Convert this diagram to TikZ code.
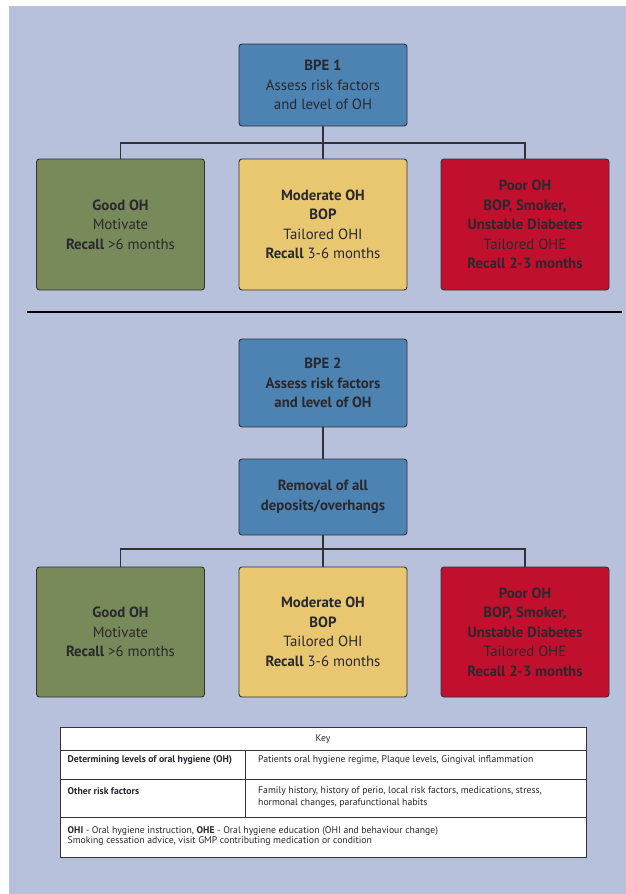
\documentclass[tikz,border=0pt]{standalone}
\usepackage{fontspec}
\setmainfont{PT Sans}
\definecolor{bgc}{RGB}{184,193,219}
\definecolor{bluec}{RGB}{77,131,179}
\definecolor{greenc}{RGB}{120,138,90}
\definecolor{yellowc}{RGB}{232,199,112}
\definecolor{redc}{RGB}{193,16,46}
\definecolor{linec}{RGB}{50,50,55}
\definecolor{txtc}{RGB}{40,40,45}
\begin{document}
\begin{tikzpicture}[x=1pt,y=-1pt,
  box/.style={draw=linec, line width=0.9pt, rounded corners=3pt, align=center,
    inner sep=0pt, minimum width=168pt, text=txtc,
    font=\fontsize{14.8}{19.5}\selectfont},
  conn/.style={draw=linec, line width=1.1pt},
  ktxt/.style={anchor=west, inner sep=0pt, text=txtc, align=left,
    font=\fontsize{9.7}{12.5}\selectfont},
  kline/.style={draw=linec, line width=0.6pt}]
\useasboundingbox (0,0) rectangle (626,894);
\fill[bgc] (9,6) rectangle (626,894);

% top part
\node[box, fill=bluec, minimum height=82pt] (bpe1) at (323,85)
  {\textbf{BPE 1}\\Assess risk factors\\and level of OH};
\node[box, fill=greenc, minimum height=131pt] (good1) at (120.5,224.5)
  {\textbf{Good OH}\\Motivate\\\textbf{Recall} >6 months};
\node[box, fill=yellowc, minimum height=131pt] (mod1) at (323,224.5)
  {\textbf{Moderate OH}\\\textbf{BOP}\\Tailored OHI\\\textbf{Recall} 3-6 months};
\node[box, fill=redc, minimum height=131pt] (poor1) at (525,224.5)
  {\textbf{Poor OH}\\\textbf{BOP, Smoker,}\\\textbf{Unstable Diabetes}\\Tailored OHE\\\textbf{Recall 2-3 months}};
\coordinate (j1) at (323,143);
\draw[conn] (bpe1.south) -- (mod1.north);
\draw[conn] (j1) -| (good1.north);
\draw[conn] (j1) -| (poor1.north);

% separator
\coordinate (s1) at (27,312);
\coordinate (s2) at (622,312);
\draw[line width=1.6pt, black] (s1) -- (s2);

% bottom part
\node[box, fill=bluec, minimum height=88pt] (bpe2) at (323,383)
  {\textbf{BPE 2}\\\textbf{Assess risk factors}\\\textbf{and level of OH}};
\node[box, fill=bluec, minimum height=76pt] (rem) at (323,497)
  {\textbf{Removal of all}\\\textbf{deposits/overhangs}};
\node[box, fill=greenc, minimum height=130pt] (good2) at (120.5,632)
  {\textbf{Good OH}\\Motivate\\\textbf{Recall} >6 months};
\node[box, fill=yellowc, minimum height=130pt] (mod2) at (323,632)
  {\textbf{Moderate OH}\\\textbf{BOP}\\Tailored OHI\\\textbf{Recall} 3-6 months};
\node[box, fill=redc, minimum height=130pt] (poor2) at (525,632)
  {\textbf{Poor OH}\\\textbf{BOP, Smoker,}\\\textbf{Unstable Diabetes}\\Tailored OHE\\\textbf{Recall 2-3 months}};
\draw[conn] (bpe2.south) -- (rem.north);
\coordinate (j2) at (323,549);
\draw[conn] (rem.south) -- (mod2.north);
\draw[conn] (j2) -| (good2.north);
\draw[conn] (j2) -| (poor2.north);

% key table
\coordinate (ktl) at (60.5,727.5);
\coordinate (kbr) at (586.5,857.5);
\fill[white] (ktl) rectangle (kbr);
\draw[kline] (60.5,750.5) -- (586.5,750.5);
\draw[kline] (60.5,779.5) -- (586.5,779.5);
\draw[kline] (60.5,817.5) -- (586.5,817.5);
\draw[kline] (245.7,750.5) -- (245.7,817.5);
\draw[draw=linec, line width=0.9pt] (ktl) rectangle (kbr);
\node[ktxt, anchor=center] (kkey) at (323,739) {Key};
\node[ktxt] (k1a) at (67.5,760.5) {\textbf{Determining levels of oral hygiene (OH)}};
\node[ktxt] (k1b) at (258,760.5) {Patients oral hygiene regime, Plaque levels, Gingival inflammation};
\node[ktxt] (k2a) at (67.5,791) {\textbf{Other risk factors}};
\node[ktxt] (k2b) at (258,791) {Family history, history of perio, local risk factors, medications, stress,};
\node[ktxt] (k2c) at (258,803) {hormonal changes, parafunctional habits};
\node[ktxt] (k3a) at (67.5,831.5) {\textbf{OHI} - Oral hygiene instruction, \textbf{OHE} - Oral hygiene education (OHI and behaviour change)};
\node[ktxt] (k3b) at (67.5,841.5) {Smoking cessation advice, visit GMP contributing medication or condition};
\end{tikzpicture}
\end{document}
